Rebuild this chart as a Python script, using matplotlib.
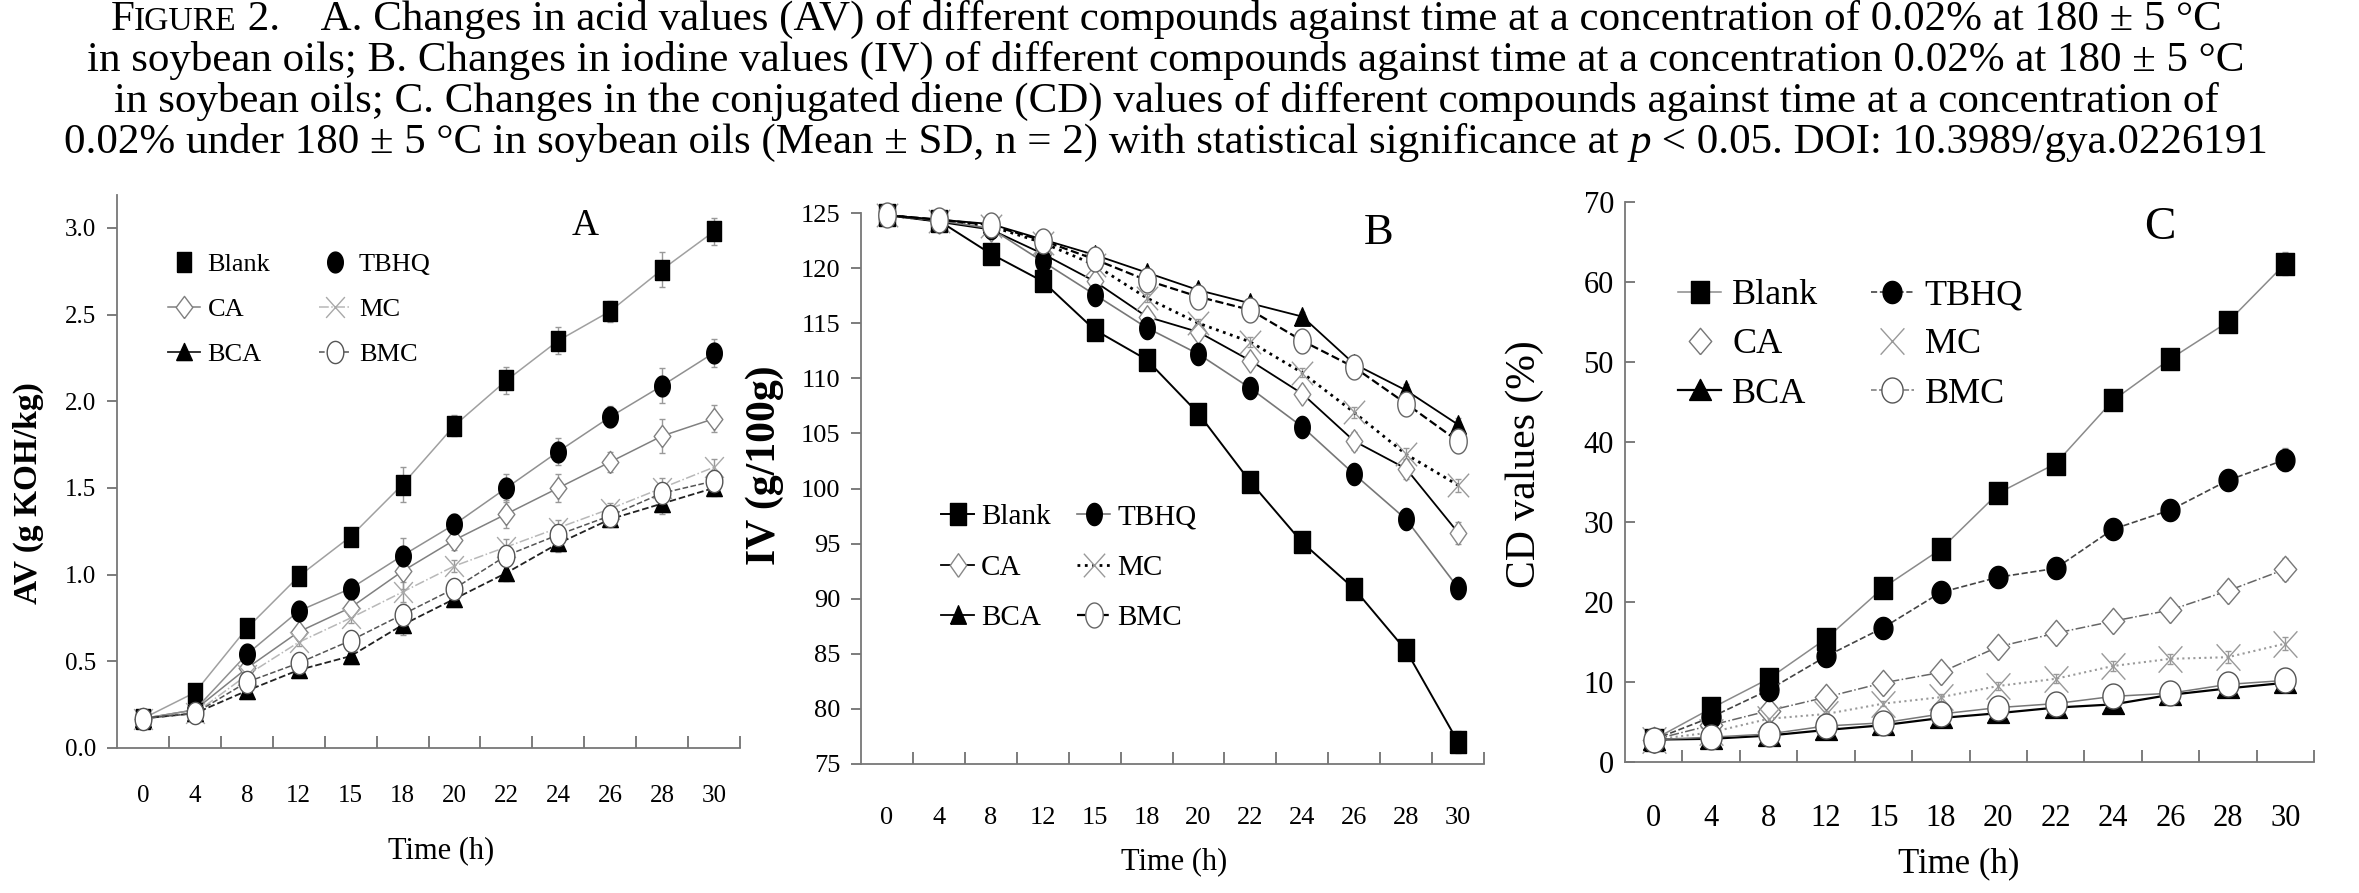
import numpy as np
import matplotlib
matplotlib.use('Agg')
import matplotlib.pyplot as plt
from matplotlib.path import Path
from matplotlib.lines import Line2D
from matplotlib.ticker import FormatStrFormatter

plt.rcParams['font.family'] = ['Liberation Serif', 'DejaVu Serif']

# ---------------- данные ----------------
time_labels = ['0', '4', '8', '12', '15', '18', '20', '22', '24', '26', '28', '30']
series = ['Blank', 'TBHQ', 'CA', 'MC', 'BCA', 'BMC']

# A - acid value, g KOH/kg
av_blank = [0.17, 0.32, 0.69, 0.99, 1.22, 1.52, 1.86, 2.12, 2.35, 2.52, 2.76, 2.98]
av_tbhq = [0.17, 0.22, 0.54, 0.79, 0.92, 1.11, 1.29, 1.50, 1.71, 1.91, 2.09, 2.28]
av_ca = [0.17, 0.22, 0.46, 0.67, 0.81, 1.02, 1.20, 1.35, 1.50, 1.65, 1.80, 1.90]
av_mc = [0.17, 0.20, 0.42, 0.61, 0.75, 0.90, 1.05, 1.16, 1.27, 1.38, 1.50, 1.62]
av_bca = [0.17, 0.20, 0.33, 0.45, 0.53, 0.71, 0.86, 1.01, 1.18, 1.32, 1.41, 1.50]
av_bmc = [0.17, 0.20, 0.38, 0.49, 0.62, 0.77, 0.92, 1.11, 1.23, 1.34, 1.47, 1.54]
av_err = [0.02, 0.03, 0.04, 0.04, 0.05, 0.10, 0.06, 0.08, 0.08, 0.06, 0.10, 0.08]

# B - iodine value, g/100g
iv_blank = [124.8, 124.3, 121.3, 118.8, 114.4, 111.7, 106.8, 100.6, 95.1, 90.9, 85.3, 77.0]
iv_tbhq = [124.8, 124.3, 123.6, 120.6, 117.6, 114.6, 112.2, 109.1, 105.6, 101.3, 97.2, 91.0]
iv_ca = [124.8, 124.2, 123.5, 121.3, 118.8, 115.6, 114.2, 111.6, 108.6, 104.3, 101.8, 96.0]
iv_mc = [124.8, 124.3, 123.8, 122.3, 120.3, 117.3, 115.0, 113.3, 110.5, 106.9, 103.1, 100.3]
iv_bca = [124.8, 124.4, 124.0, 122.6, 121.2, 119.6, 118.0, 116.8, 115.6, 111.3, 108.9, 105.8]
iv_bmc = [124.8, 124.4, 123.9, 122.5, 120.8, 118.9, 117.4, 116.2, 113.4, 111.0, 107.7, 104.3]
iv_err = [0.3, 0.3, 0.4, 0.5, 0.5, 0.6, 0.6, 0.7, 0.7, 0.8, 0.9, 1.0]

# C - conjugated diene, %
cd_blank = [2.8, 6.7, 10.4, 15.4, 21.8, 26.6, 33.6, 37.3, 45.2, 50.4, 55.0, 62.3]
cd_tbhq = [2.8, 5.6, 9.0, 13.2, 16.8, 21.2, 23.1, 24.2, 29.1, 31.5, 35.2, 37.8]
cd_ca = [2.8, 4.6, 6.4, 8.1, 9.9, 11.2, 14.4, 16.1, 17.6, 19.0, 21.4, 24.1]
cd_mc = [2.8, 3.7, 5.4, 6.0, 7.3, 8.1, 9.5, 10.4, 12.0, 12.9, 13.1, 14.8]
cd_bca = [2.8, 2.9, 3.3, 4.0, 4.6, 5.5, 6.1, 6.8, 7.2, 8.4, 9.2, 9.9]
cd_bmc = [2.8, 3.1, 3.5, 4.5, 4.9, 6.0, 6.8, 7.3, 8.2, 8.6, 9.7, 10.2]
cd_err = [0.3, 0.4, 0.5, 0.6, 0.6, 0.7, 0.8, 0.9, 1.0, 1.0, 1.2, 1.4]

W, H = 2359, 893
fig = plt.figure(figsize=(W / 100, H / 100), dpi=100)
fig.patch.set_facecolor('white')


# --- маркеры, немного сжатые по горизонтали, как на исходной картинке ---
def m_square(r):
    return Path([(-r, -1), (r, -1), (r, 1), (-r, 1), (-r, -1)])

def m_ellipse(r):
    t = np.linspace(0, 2 * np.pi, 41)
    return Path(list(zip(r * np.cos(t), np.sin(t))))

def m_tri(r):
    return Path([(-r * 1.1, -0.85), (r * 1.1, -0.85), (0, 0.95), (-r * 1.1, -0.85)])

def m_diamond(r):
    return Path([(0, -1), (r, 0), (0, 1), (-r, 0), (0, -1)])

def m_cross(r):
    return Path([(-r, -1), (r, 1), (-r, 1), (r, -1)],
                [Path.MOVETO, Path.LINETO, Path.MOVETO, Path.LINETO])


def px(xp, yp):
    return (xp / W, 1 - yp / H)

def rect(l, r, t, b):
    return [l / W, 1 - b / H, (r - l) / W, (b - t) / H]


def panel(rect_, data, err, styles, ylim, yticks, ylabel, ybold, fs_ylab, ylab_xy,
          xlab_xy, letter, letter_xy, fs_tick, tick_pad, fs_lab, fs_leg, fs_let, ms, r, ydir,
          leg_anchor, leg_opts, leg_lines, leg_ls=None):
    ax = fig.add_axes(rect_)
    x = np.arange(len(time_labels))
    shapes = [m_square(r), m_ellipse(r), m_diamond(r), m_cross(0.9), m_tri(r), m_ellipse(r)]
    handles = []
    for i, (name, vals) in enumerate(zip(series, data)):
        st = styles[i]
        ax.errorbar(x, vals, yerr=err if i < 3 else np.array(err) * 0.6,
                    fmt='none', ecolor='#999999', elinewidth=1, capsize=2, zorder=1, clip_on=False)
        ax.plot(x, vals, color=st['lc'], ls=st['ls'], lw=st['lw'], marker=shapes[i], ms=ms[i],
                mfc=st['mfc'], mec=st['mec'], mew=1.0, zorder=st['z'], clip_on=False)
        hls = st['ls'] if leg_lines[i] else 'none'
        if leg_ls and i in leg_ls:
            hls = leg_ls[i]
        handles.append(Line2D([], [], color=st['lc'], ls=hls, lw=st['lw'], marker=shapes[i],
                              ms=ms[i], mfc=st['mfc'], mec=st['mec'], mew=1.0))
    ax.set_xlim(-0.5, len(time_labels) - 0.5)
    ax.set_ylim(*ylim)
    ax.set_xticks(x)
    ax.set_xticklabels(time_labels)
    ax.set_xticks(x + 0.5, minor=True)
    ax.set_yticks(yticks)
    ax.tick_params(axis='x', which='major', length=0, labelsize=fs_tick, pad=tick_pad)
    ax.tick_params(axis='x', which='minor', direction='in', length=9, color='#666666', width=1.2)
    ax.tick_params(axis='y', direction=ydir, length=7, color='#666666', width=1.2,
                   labelsize=fs_tick, pad=8)
    for s in ['top', 'right']:
        ax.spines[s].set_visible(False)
    for s in ['left', 'bottom']:
        ax.spines[s].set_color('#777777')
        ax.spines[s].set_linewidth(1.3)
    ax.set_xlabel('Time (h)', fontsize=fs_lab)
    ax.xaxis.label.set_va('center')
    ax.xaxis.set_label_coords(xlab_xy[0], xlab_xy[1], transform=fig.transFigure)
    ax.set_ylabel(ylabel, fontsize=fs_ylab, fontweight='bold' if ybold else 'normal')
    ax.yaxis.label.set_va('center')
    ax.yaxis.set_label_coords(ylab_xy[0], ylab_xy[1], transform=fig.transFigure)
    ax.text(letter_xy[0], letter_xy[1], letter, transform=fig.transFigure, fontsize=fs_let,
            ha='center', va='center')
    order = [0, 2, 4, 1, 3, 5]
    ax.legend([handles[k] for k in order], [series[k] for k in order], ncol=2, frameon=False,
              loc='upper left', bbox_to_anchor=leg_anchor, bbox_transform=fig.transFigure,
              fontsize=fs_leg, borderpad=0, borderaxespad=0, **leg_opts)
    return ax


# A
styles_a = [
    dict(lc='#a0a0a0', ls='-', lw=1.1, mfc='black', mec='black', z=5),
    dict(lc='#909090', ls='-', lw=1.1, mfc='black', mec='black', z=5),
    dict(lc='#808080', ls='-', lw=1.1, mfc='white', mec='#808080', z=4),
    dict(lc='#b8b8b8', ls='-.', lw=1.1, mfc='none', mec='#a8a8a8', z=4),
    dict(lc='#222222', ls='--', lw=1.3, mfc='black', mec='black', z=5),
    dict(lc='#555555', ls='--', lw=1.1, mfc='white', mec='#555555', z=6),
]
ax_a = panel(rect(117, 740, 195, 748),
             [av_blank, av_tbhq, av_ca, av_mc, av_bca, av_bmc], av_err, styles_a,
             (0, 3.19), [0, 0.5, 1.0, 1.5, 2.0, 2.5, 3.0], 'AV (g KOH/kg)', True, 24, px(28, 493),
             px(441, 851), 'A', px(585, 226), 18, 27, 22, 19, 27,
             [14, 15, 16, 15, 13, 16], 0.75, 'out', px(168, 253),
             dict(handlelength=1.2, handletextpad=0.3, columnspacing=1.86, labelspacing=0.81),
             [False, False, True, True, True, True], {4: '-'})
ax_a.yaxis.set_major_formatter(FormatStrFormatter('%.1f'))

# B
styles_b = [
    dict(lc='black', ls='-', lw=1.4, mfc='black', mec='black', z=5),
    dict(lc='#777777', ls='-', lw=1.2, mfc='black', mec='black', z=5),
    dict(lc='black', ls='-', lw=1.3, mfc='white', mec='#888888', z=4),
    dict(lc='black', ls=':', lw=2.0, mfc='none', mec='#999999', z=4),
    dict(lc='black', ls='-', lw=1.3, mfc='black', mec='black', z=5),
    dict(lc='black', ls='--', lw=1.6, mfc='white', mec='#666666', z=6),
]
panel(rect(861, 1484, 213, 764),
      [iv_blank, iv_tbhq, iv_ca, iv_mc, iv_bca, iv_bmc], iv_err, styles_b,
      (75, 125), [75, 80, 85, 90, 95, 100, 105, 110, 115, 120, 125], 'IV (g/100g)', True, 30,
      px(765, 465), px(1174, 862), 'B', px(1379, 233), 19, 31, 22, 21, 32,
      [16, 16, 17, 17, 14, 18], 0.7, 'out', px(941, 504),
      dict(handlelength=1.14, handletextpad=0.24, columnspacing=0.9, labelspacing=0.82),
      [True] * 6)

# C
styles_c = [
    dict(lc='#8a8a8a', ls='-', lw=1.1, mfc='black', mec='black', z=5),
    dict(lc='#444444', ls='--', lw=1.2, mfc='black', mec='black', z=5),
    dict(lc='#666666', ls='-.', lw=1.1, mfc='white', mec='#777777', z=4),
    dict(lc='#9a9a9a', ls=':', lw=1.5, mfc='none', mec='#999999', z=4),
    dict(lc='black', ls='-', lw=1.6, mfc='black', mec='black', z=5),
    dict(lc='#777777', ls='-', lw=1.1, mfc='white', mec='#555555', z=6),
]
panel(rect(1625, 2314, 202, 762),
      [cd_blank, cd_tbhq, cd_ca, cd_mc, cd_bca, cd_bmc], cd_err, styles_c,
      (0, 70), [0, 10, 20, 30, 40, 50, 60, 70], 'CD values (%)', False, 30, px(1525, 464),
      px(1959, 864), 'C', px(2160, 228), 22, 30, 25, 26, 34,
      [16, 16, 19, 19, 16, 18], 0.85, 'in', px(1678, 279),
      dict(handlelength=1.2, handletextpad=0.3, columnspacing=1.45, labelspacing=0.44),
      [True, True, False, False, True, True], {5: '--'})

# --- подпись к рисунку ---
renderer = fig.canvas.get_renderer()
cap_fs = 31
cap_lines = [
    [('F', 1.0, 'normal'), ('IGURE', 0.78, 'normal'), (' 2.', 1.0, 'normal'),
     ('    A. Changes in acid values (AV) of different compounds against time at a concentration of 0.02% at 180 ± 5 °C', 1.0, 'normal')],
    [('in soybean oils; B. Changes in iodine values (IV) of different compounds against time at a concentration 0.02% at 180 ± 5 °C', 1.0, 'normal')],
    [('in soybean oils; C. Changes in the conjugated diene (CD) values of different compounds against time at a concentration of', 1.0, 'normal')],
    [('0.02% under 180 ± 5 °C in soybean oils (Mean ± SD, n = 2) with statistical significance at ', 1.0, 'normal'),
     ('p', 1.0, 'italic'), (' < 0.05. DOI: 10.3989/gya.0226191', 1.0, 'normal')],
]
baselines = [30, 71, 112, 153]
cx = 1166
for segs, yb in zip(cap_lines, baselines):
    objs = []
    for s, scale, style in segs:
        t = fig.text(0, 1 - yb / H, s, fontsize=cap_fs * scale, style=style, va='baseline', ha='left')
        objs.append(t)
    widths = [t.get_window_extent(renderer).width for t in objs]
    xcur = cx - sum(widths) / 2
    for t, w in zip(objs, widths):
        t.set_x(xcur / W)
        xcur += w

fig.savefig('out.png', dpi=100, facecolor='white')
